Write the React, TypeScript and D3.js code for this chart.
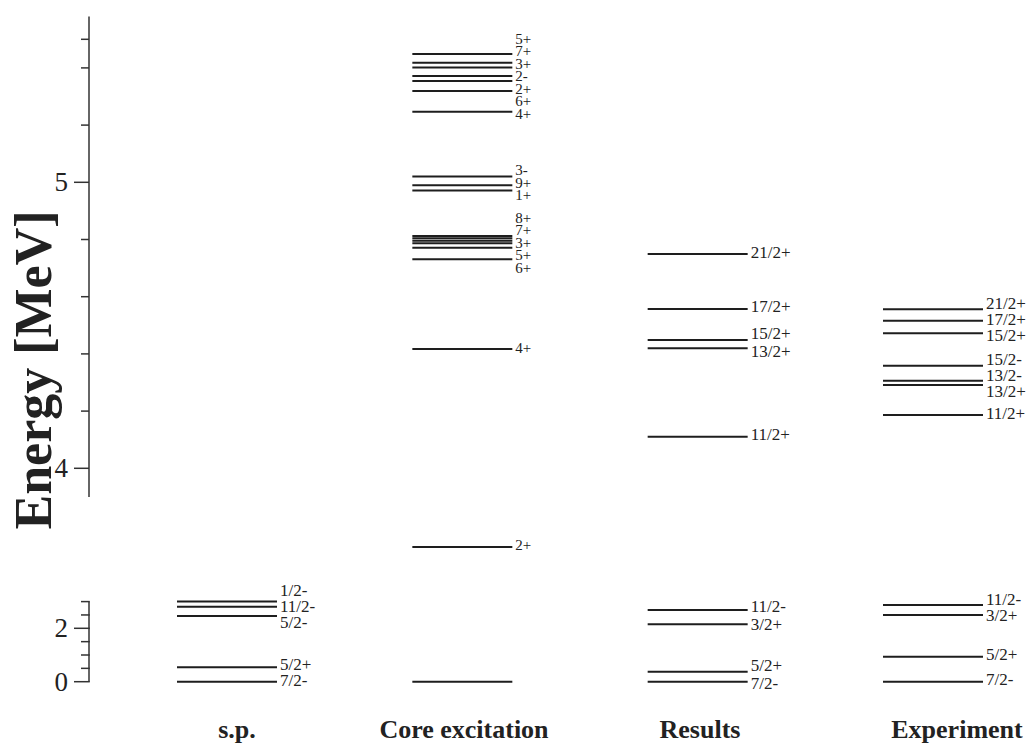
import React from "react";
import * as d3 from "d3";

const categories = ["s.p.", "Core excitation", "Results", "Experiment"];

const spEnergies = [0, 0.54, 2.46, 2.81, 3.0];
const spLabels = ["7/2-", "5/2+", "5/2-", "11/2-", "1/2-"];

const coreEnergies = [
  0, 3.725, 4.417, 4.731, 4.771, 4.787, 4.796, 4.804, 4.812, 4.971, 4.99, 5.02,
  5.247, 5.319, 5.354, 5.372, 5.401, 5.418, 5.449,
];
const coreLabels = [
  "", "2+", "4+", "6+", "5+", "", "3+", "7+", "8+", "1+", "9+", "3-",
  "4+", "6+", "2+", "2-", "3+", "7+", "5+",
];

const resEnergies = [0, 0.375, 2.15, 2.685, 4.11, 4.42, 4.449, 4.557, 4.749];
const resLabels = ["7/2-", "5/2+", "3/2+", "11/2-", "11/2+", "13/2+", "15/2+", "17/2+", "21/2+"];

const expEnergies = [0, 0.936, 2.498, 2.873, 4.186, 4.291, 4.306, 4.359, 4.472, 4.516, 4.556];
const expLabels = ["7/2-", "5/2+", "3/2+", "11/2-", "11/2+", "13/2+", "13/2-", "15/2-", "15/2+", "17/2+", "21/2+"];

const lowTicks = [0, 0.5, 1, 1.5, 2, 2.5, 3];
const lowMajor = [0, 2];
const highTicks = [4, 4.2, 4.4, 4.6, 4.8, 5, 5.2, 5.4, 5.5];
const highMajor = [4, 5];

const columns = [
  { energies: spEnergies, labels: spLabels },
  { energies: coreEnergies, labels: coreLabels },
  { energies: resEnergies, labels: resLabels },
  { energies: expEnergies, labels: expLabels },
];

// layout constants
const W = 1032;
const H = 748;
const axisX = 89;
const lineW = 100;
const ink = "#1e1e1e";
const serif = "'Liberation Serif', 'Times New Roman', serif";
const labelGaps = [16, 12.5, 18, 16];
const labelSizes = [17, 15, 17, 17];
const catLabelX = [237, 464, 700, 957];

const yLow = d3.scaleLinear().domain([0, 3]).range([681.7, 601.6]);
const yHigh = d3.scaleLinear().domain([4, 5]).range([468.3, 182.3]);
const yE = (e: number) => (e <= 3.2 ? yLow(e) : yHigh(e));

const xCol = d3.scalePoint<string>().domain(categories).range([177, 883]);

function spread(ys: number[], gap: number): number[] {
  const order = ys.map((v, i) => i).sort((a, b) => ys[a] - ys[b]);
  type C = { idx: number[]; mean: number };
  let clusters: C[] = order.map((i) => ({ idx: [i], mean: ys[i] }));
  let changed = true;
  while (changed) {
    changed = false;
    for (let k = 0; k < clusters.length - 1; k++) {
      const a = clusters[k];
      const b = clusters[k + 1];
      const aBot = a.mean + ((a.idx.length - 1) / 2) * gap;
      const bTop = b.mean - ((b.idx.length - 1) / 2) * gap;
      if (bTop - aBot < gap) {
        const idx = a.idx.concat(b.idx);
        const mean = d3.mean(idx, (i) => ys[i]) as number;
        clusters.splice(k, 2, { idx, mean });
        changed = true;
        break;
      }
    }
  }
  const out = new Array(ys.length).fill(0);
  clusters.forEach((c) => {
    const n = c.idx.length;
    c.idx.forEach((i, j) => {
      out[i] = c.mean - ((n - 1) / 2) * gap + j * gap;
    });
  });
  return out;
}

export default function App() {
  const highTop = 5.58;
  return (
    <svg width={W} height={H} style={{ position: "absolute", left: 0, top: 0 }}>
      <rect width={W} height={H} fill="white" />
      <line x1={axisX} x2={axisX} y1={yHigh(3.9)} y2={yHigh(highTop)} stroke="#333" strokeWidth={1.5} />
      <line x1={axisX} x2={axisX} y1={yLow(0)} y2={yLow(3)} stroke="#333" strokeWidth={1.5} />
      {highTicks.map((t) => (
        <line key={"h" + t} x1={highMajor.includes(t) ? axisX - 15 : axisX - 8} x2={axisX} y1={yHigh(t)} y2={yHigh(t)} stroke="#333" strokeWidth={1.5} />
      ))}
      {lowTicks.map((t) => (
        <line key={"l" + t} x1={lowMajor.includes(t) ? axisX - 15 : axisX - 8} x2={axisX + 0.75} y1={yLow(t)} y2={yLow(t)} stroke="#333" strokeWidth={1.5} />
      ))}
      {highMajor.map((t) => (
        <text key={"hl" + t} x={axisX - 21} y={yHigh(t)} dy="0.33em" textAnchor="end" style={{ fontFamily: serif }} fontSize={27} fill="#222">{t}</text>
      ))}
      {lowMajor.map((t) => (
        <text key={"ll" + t} x={axisX - 21} y={yLow(t)} dy="0.33em" textAnchor="end" style={{ fontFamily: serif }} fontSize={27} fill="#222">{t}</text>
      ))}
      <text transform={`translate(51,370) rotate(-90)`} textAnchor="middle" style={{ fontFamily: serif }} fontWeight="bold" fontSize={52} fill="#222">Energy [MeV]</text>

      {columns.map((col, ci) => {
        const x0 = xCol(categories[ci]) as number;
        const ys = col.energies.map(yE);
        const gap = labelGaps[ci];
        const isHigh = col.energies.map((e) => e > 3.2);
        const lowIdx = ys.map((v, i) => i).filter((i) => !isHigh[i] && col.labels[i] !== "");
        const highIdx = ys.map((v, i) => i).filter((i) => isHigh[i] && col.labels[i] !== "");
        const pos: number[] = new Array(ys.length).fill(0);
        [lowIdx, highIdx].forEach((grp) => {
          const sp = spread(grp.map((i) => ys[i]), gap);
          grp.forEach((i, j) => (pos[i] = sp[j]));
        });
        return (
          <g key={ci}>
            {ys.map((y, i) => (
              <line key={"ln" + i} x1={x0} x2={x0 + lineW} y1={y} y2={y} stroke={ink} strokeWidth={2} />
            ))}
            {ys.map((y, i) =>
              col.labels[i] ? (
                <text key={"tx" + i} x={x0 + lineW + 3} y={pos[i] + 3.5} style={{ fontFamily: serif }} fontSize={labelSizes[ci]} fill="#222">{col.labels[i]}</text>
              ) : null
            )}
            <text x={catLabelX[ci]} y={738} textAnchor="middle" style={{ fontFamily: serif }} fontWeight="bold" fontSize={26} fill="#222">{categories[ci]}</text>
          </g>
        );
      })}
    </svg>
  );
}
